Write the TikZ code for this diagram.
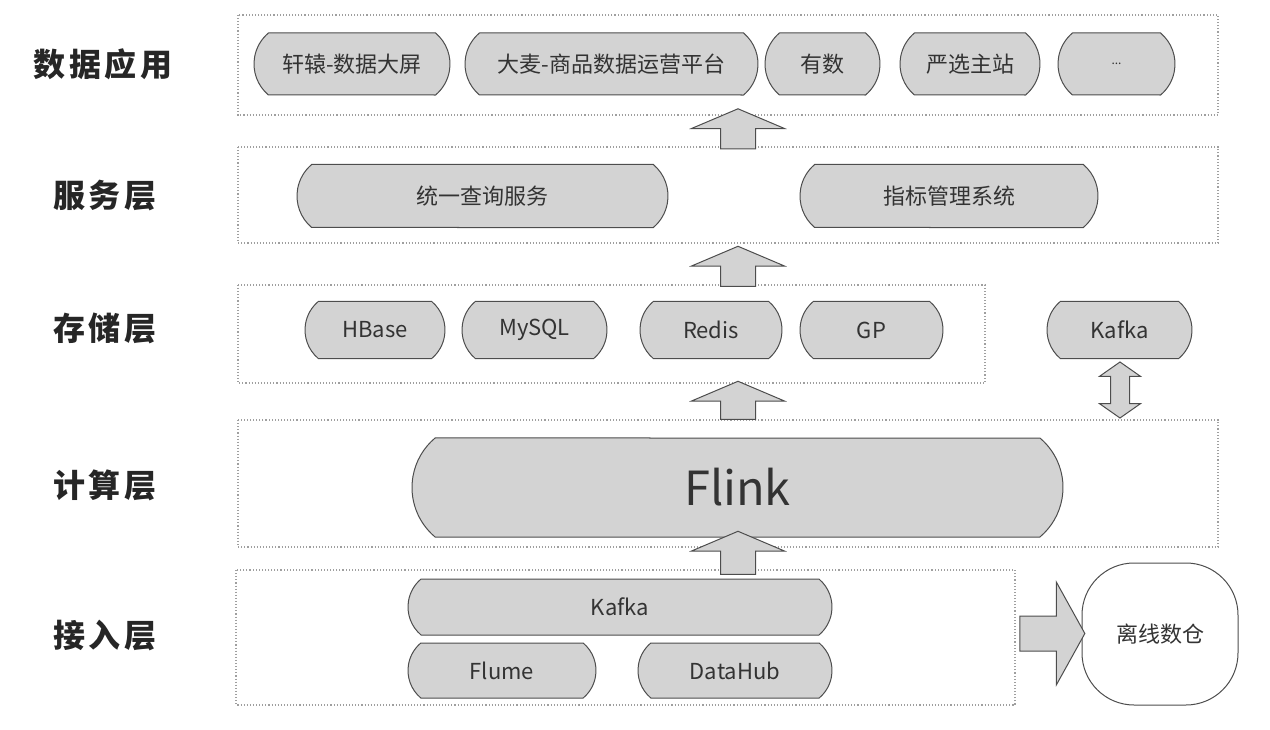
\documentclass[tikz,border=0pt]{standalone}
\usepackage{fontspec}
\setmainfont{Noto Sans CJK SC}
\newfontfamily\tagfont{Noto Sans CJK SC}[LetterSpace=12]
\usepackage{tikz}
\usetikzlibrary{shapes.misc}
\usetikzlibrary{shapes.arrows}

\definecolor{boxgray}{HTML}{D3D3D3}
\definecolor{edgegray}{HTML}{4D4D4D}
\definecolor{txtgray}{HTML}{333333}

\tikzset{
  layer/.style={draw=gray!75, dotted, line width=1.1pt},
  pill/.style={rounded rectangle, rounded rectangle arc length=100, draw=edgegray, fill=boxgray,
    line width=1pt, text=txtgray, font=\fontsize{22}{24}\selectfont, inner sep=0pt},
  tag/.style={font=\tagfont\bfseries\fontsize{32}{36}\selectfont, text=black!85},
  blockarrow/.style={single arrow, draw=edgegray, fill=boxgray, line width=1pt,
    inner xsep=0pt, inner ysep=17pt, text height=0pt, text depth=0pt,
    single arrow head extend=29pt, single arrow tip angle=134}
}

\begin{document}
\begin{tikzpicture}[x=1pt,y=-1pt]
  \useasboundingbox (0,0) rectangle (1270,730);

  % layer labels
  \node[tag] (tApp) at (103,64) {数据应用};
  \node[tag] (tSrv) at (105,196) {服务层};
  \node[tag] (tSto) at (105,328) {存储层};
  \node[tag] (tCmp) at (105,485) {计算层};
  \node[tag] (tAcc) at (105,635) {接入层};

  % dotted layer frames
  \draw[layer] (238,15) rectangle (1218,115);
  \draw[layer] (238,147) rectangle (1218,243);
  \draw[layer] (238,285) rectangle (985,383);
  \draw[layer] (238,420) rectangle (1218,547);
  \draw[layer] (236,570) rectangle (1015,705);

  % 数据应用
  \node[pill, minimum width=196pt, minimum height=62pt] (xuanyuan) at (352,64) {轩辕-数据大屏};
  \node[pill, minimum width=293pt, minimum height=62pt] (damai) at (611.5,64) {大麦-商品数据运营平台};
  \node[pill, minimum width=115pt, minimum height=62pt] (youshu) at (822.5,64) {有数};
  \node[pill, minimum width=140pt, minimum height=62pt] (yanxuan) at (970,64) {严选主站};
  \node[pill, minimum width=117pt, minimum height=62pt] (etc) at (1116.5,64) {\fontsize{12}{12}\selectfont...};

  % 服务层
  \node[pill, minimum width=371pt, minimum height=63pt] (query) at (482.5,196) {统一查询服务};
  \node[pill, minimum width=298pt, minimum height=63pt] (metric) at (949,196) {指标管理系统};

  % 存储层
  \node[pill, minimum width=140pt, minimum height=57pt] (hbase) at (375,330) {HBase};
  \node[pill, minimum width=145pt, minimum height=57pt] (mysql) at (534.5,330) {MySQL};
  \node[pill, minimum width=142pt, minimum height=57pt] (redis) at (711,330) {Redis};
  \node[pill, minimum width=143pt, minimum height=57pt] (gp) at (871.5,330) {GP};
  \node[pill, minimum width=145pt, minimum height=57pt] (kafkaS) at (1119.5,330) {Kafka};

  % 计算层
  \node[pill, minimum width=651pt, minimum height=99pt, font=\fontsize{47}{50}\selectfont] (flink) at (737.5,487.5) {Flink};

  % 接入层
  \node[pill, minimum width=424pt, minimum height=56pt] (kafkaA) at (620,607) {Kafka};
  \node[pill, minimum width=188pt, minimum height=55pt] (flume) at (502,670.5) {Flume};
  \node[pill, minimum width=194pt, minimum height=55pt] (datahub) at (735,670.5) {DataHub};
  \node[rectangle, rounded corners=52pt, draw=edgegray, fill=white, line width=1pt, text=txtgray,
    font=\fontsize{22}{24}\selectfont, minimum width=156pt, minimum height=142pt] (offline) at (1160,634) {离线数仓};

  % block arrows
  \node[blockarrow, rotate=90, minimum height=40pt] (up1) at (738,132.5) {};
  \node[blockarrow, rotate=90, minimum height=40pt] (up2) at (738,270) {};
  \node[blockarrow, rotate=90, minimum height=38pt] (up3) at (738,404) {};
  \node[blockarrow, rotate=90, minimum height=43pt] (up4) at (738,556.5) {};
  \node[blockarrow, minimum height=65pt, single arrow head extend=34pt, single arrow tip angle=122] (toOffline) at (1047.5,633.5) {};
  \node[double arrow, draw=edgegray, fill=boxgray, line width=1pt, rotate=90,
    inner xsep=0pt, inner ysep=9pt, text height=0pt, text depth=0pt,
    double arrow head extend=11pt, double arrow tip angle=110,
    minimum height=56pt] (kafkaLink) at (1120,390) {};
\end{tikzpicture}
\end{document}
